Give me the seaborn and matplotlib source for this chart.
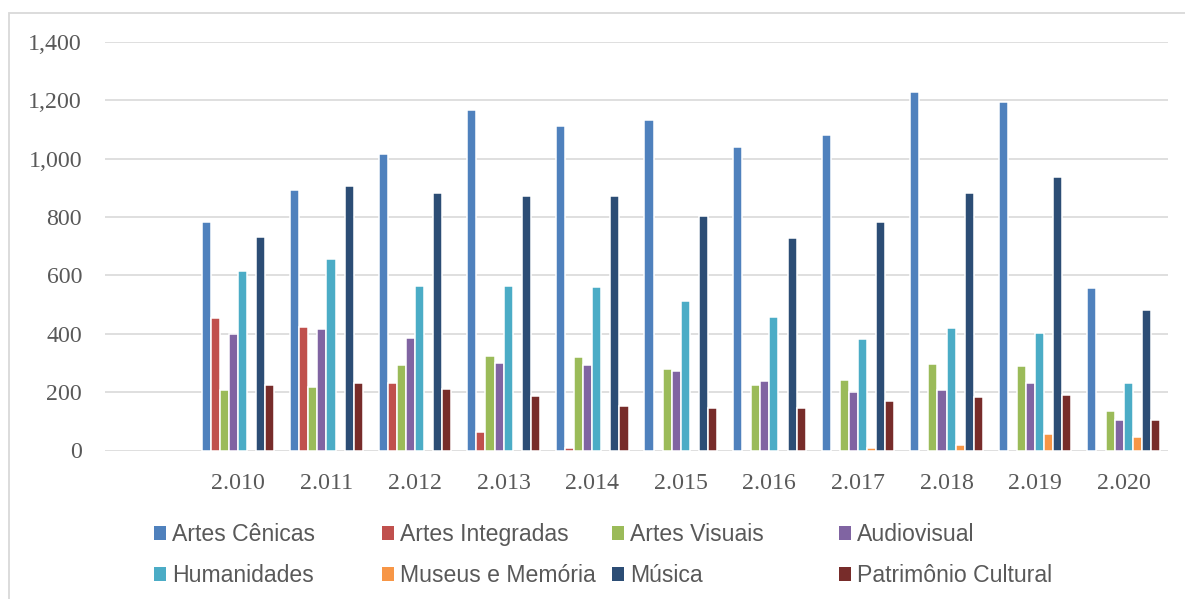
import numpy as np
import pandas as pd
import matplotlib
matplotlib.use("Agg")
import matplotlib.pyplot as plt
from matplotlib.patches import Rectangle
import seaborn as sns

# ---- data ----
years = ["2.010", "2.011", "2.012", "2.013", "2.014", "2.015",
         "2.016", "2.017", "2.018", "2.019", "2.020"]
series_names = ["Artes Cênicas", "Artes Integradas", "Artes Visuais", "Audiovisual",
                "Humanidades", "Museus e Memória", "Música", "Patrimônio Cultural"]
nan = np.nan
artes_cenicas = [782, 892, 1015, 1166, 1113, 1134, 1040, 1082, 1228, 1196, 558]
artes_integradas = [453, 424, 233, 63, 10, nan, nan, nan, nan, nan, nan]
artes_visuais = [206, 219, 294, 325, 321, 281, 223, 242, 295, 288, 136]
audiovisual = [399, 415, 385, 301, 294, 274, 239, 201, 208, 232, 105]
humanidades = [615, 656, 565, 565, 560, 511, 457, 381, 421, 402, 233]
museus_memoria = [nan, nan, nan, nan, nan, nan, nan, 7, 18, 58, 45]
musica = [733, 908, 882, 873, 873, 805, 727, 784, 882, 937, 480]
patrimonio_cultural = [223, 232, 210, 186, 151, 146, 144, 171, 183, 189, 105]
y_ticks = [0, 200, 400, 600, 800, 1000, 1200, 1400]

colors = ["#4F81BD", "#C0504D", "#9BBB59", "#8064A2",
          "#4BACC6", "#F79646", "#2C4D75", "#772C2A"]

all_series = [artes_cenicas, artes_integradas, artes_visuais, audiovisual,
              humanidades, museus_memoria, musica, patrimonio_cultural]
rows = []
for name, vals in zip(series_names, all_series):
    for yr, v in zip(years, vals):
        rows.append({"Ano": yr, "Área": name, "Valor": v})
df = pd.DataFrame(rows).dropna()

W, H = 1185, 599
fig = plt.figure(figsize=(W / 100, H / 100), dpi=100)
fig.patch.set_facecolor("white")
ax = fig.add_axes([105 / W, 1 - 450.5 / H, (1168 - 105) / W, (450.5 - 42) / H])

sns.barplot(data=df, x="Ano", y="Valor", hue="Área",
            order=[""] + years, hue_order=series_names, palette=colors,
            saturation=1, width=0.82, edgecolor="white", linewidth=1.1,
            errorbar=None, ax=ax, zorder=3)

handles, labels = ax.get_legend_handles_labels()
if ax.get_legend() is not None:
    ax.get_legend().remove()

ax.set_ylim(0, 1400)
ax.set_xlim(-0.5, 11.5)
ax.set_yticks(y_ticks)
ax.set_yticklabels([f"{v:,}" for v in y_ticks])
ax.set_xlabel("")
ax.set_ylabel("")
for s in ax.spines.values():
    s.set_visible(False)
ax.grid(axis="y", color="#D9D9D9", linewidth=1.2, zorder=0)
ax.grid(axis="x", visible=False)
ax.set_axisbelow(True)
ax.tick_params(axis="both", length=0, colors="#595959")
ax.tick_params(axis="y", pad=16.5)
ax.tick_params(axis="x", pad=16)
for lab in ax.get_xticklabels() + ax.get_yticklabels():
    lab.set_fontfamily("Liberation Serif")
    lab.set_fontsize(17.2)
    lab.set_color("#595959")

# legend: 4 uniform columns, 2 rows each (Excel-like layout)
col_x = [154, 382, 612, 839]
for c in range(4):
    hs = [handles[c], handles[c + 4]]
    ls = [labels[c], labels[c + 4]]
    leg = fig.legend(hs, ls, loc="center left",
                     bbox_to_anchor=(col_x[c] / W, 1 - 555 / H),
                     frameon=False, borderpad=0, borderaxespad=0,
                     handlelength=0.53, handleheight=0.57, handletextpad=0.25,
                     labelspacing=0.77,
                     prop={"family": "Liberation Sans", "size": 16.6})
    for t in leg.get_texts():
        t.set_color("#595959")
    for p in leg.get_patches():
        p.set_edgecolor("none")

# outer chart border
fig.add_artist(Rectangle((8.5 / W, -0.5), 2, (1 - 12.5 / H) + 0.5,
                         transform=fig.transFigure, fill=False,
                         edgecolor="#D9D9D9", linewidth=1.3))

fig.savefig("out.png", dpi=100)
